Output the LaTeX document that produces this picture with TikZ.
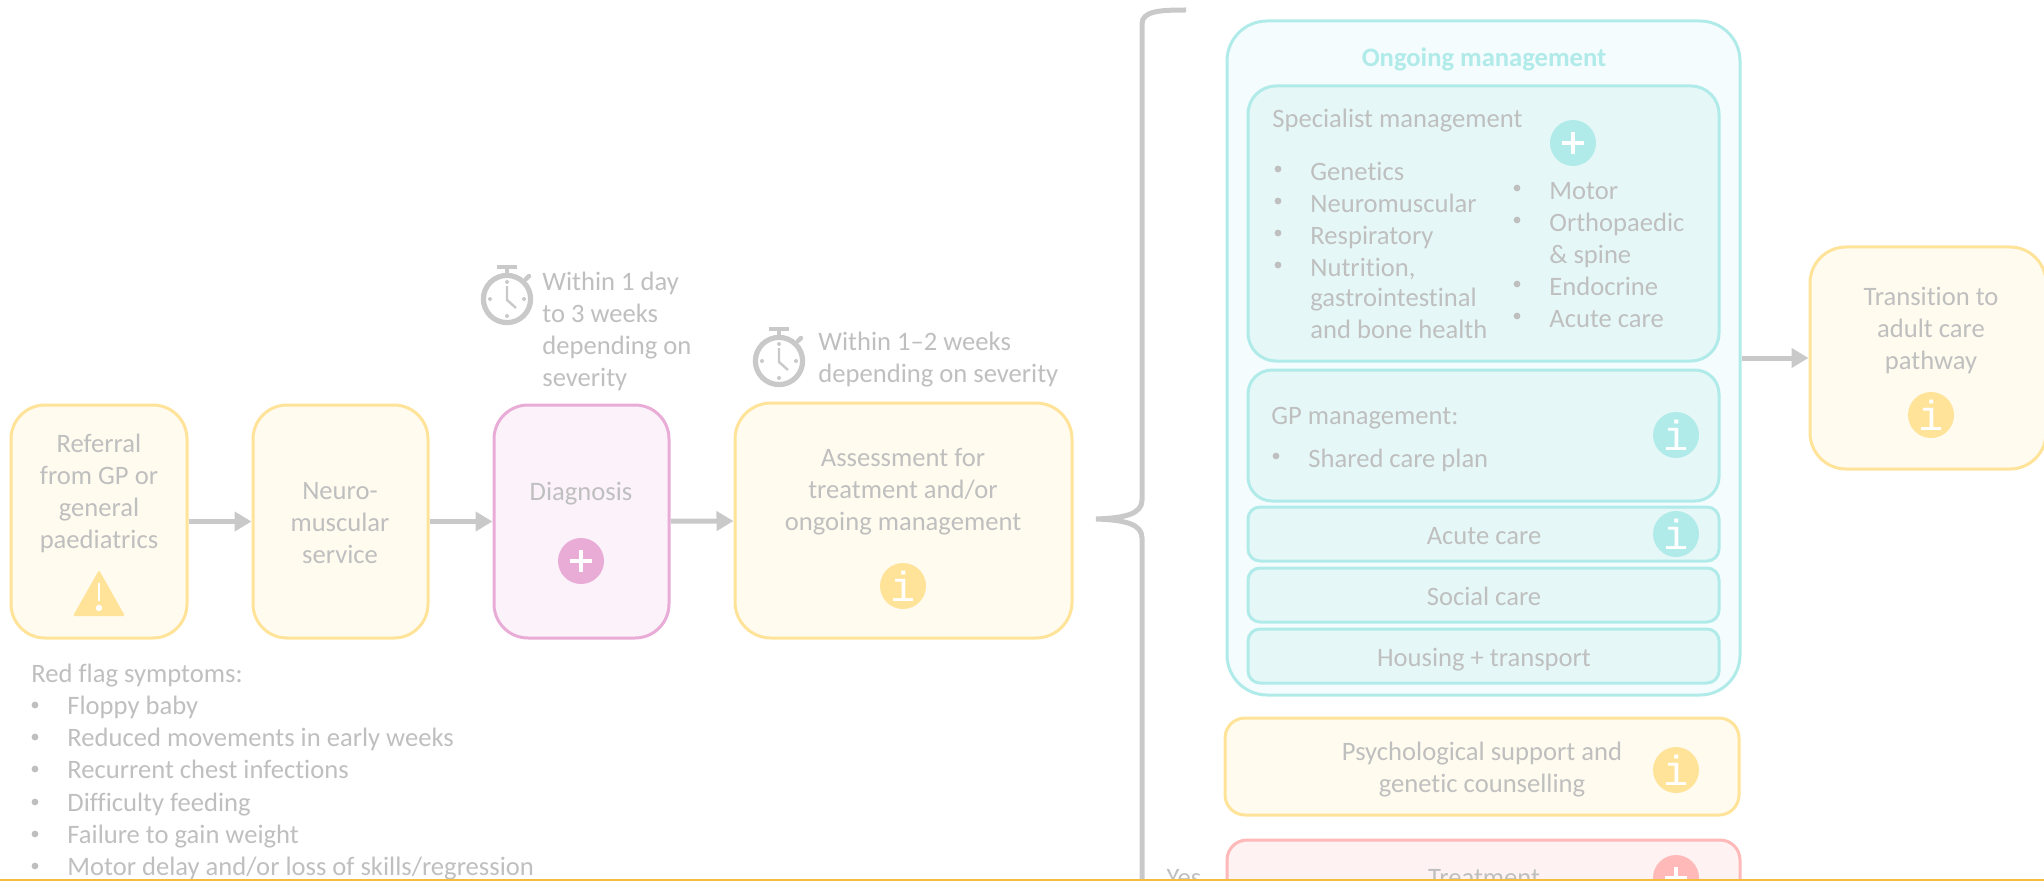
\documentclass[tikz,border=0pt]{standalone}
\usepackage{fontspec}
\setmainfont{Carlito}[Ligatures=NoCommon]
\newfontfamily\iconfont{Liberation Mono}
\usetikzlibrary{arrows.meta}
\definecolor{lightgray}{HTML}{C9C9C9}
\definecolor{labelgray}{HTML}{BFBFBF}
\definecolor{yellowline}{HTML}{FFE399}
\definecolor{yellowfill}{HTML}{FFFBEF}
\definecolor{pinkline}{HTML}{E8ACD6}
\definecolor{pinkfill}{HTML}{FBF2FA}
\definecolor{tealline}{HTML}{B0EBEA}
\definecolor{tealfill}{HTML}{E5F8F7}
\definecolor{tealpale}{HTML}{F4FCFD}
\definecolor{redline}{HTML}{FFB9B9}
\definecolor{redfill}{HTML}{FEF2F2}
\definecolor{rulegold}{HTML}{F2BE3C}
\tikzset{
	flowbox/.style={draw, line width=1.5pt, inner sep=0pt, rounded corners=17pt},
	yellowbox/.style={flowbox, draw=yellowline, fill=yellowfill},
	pinkbox/.style={flowbox, draw=pinkline, fill=pinkfill},
	tealbox/.style={flowbox, draw=tealline, fill=tealfill, rounded corners=14pt},
	label/.style={text=labelgray, font=\fontsize{13.3}{16}\selectfont, align=center, inner sep=0pt, yshift=-1.6pt, execute at begin node=\strut, execute at end node=\strut},
	leftlabel/.style={label, anchor=west, align=left},
	dotmark/.style={circle, fill=labelgray, minimum size=3.4pt, inner sep=0pt},
	flowarrow/.style={lightgray, line width=2.5pt, -{Triangle[length=8.5pt,width=9.5pt]}},
	infoicon/.style={circle, minimum size=23pt, inner sep=0pt, text=white, font=\iconfont\fontsize{21}{21}\selectfont},
	plusicon/.style={circle, minimum size=23pt, inner sep=0pt, path picture={
		\draw [white, line width=2.2pt] ([xshift=-5.7pt]path picture bounding box.center) -- ([xshift=5.7pt]path picture bounding box.center);
		\draw [white, line width=2.2pt] ([yshift=-5.7pt]path picture bounding box.center) -- ([yshift=5.7pt]path picture bounding box.center);
	}}
}
\begin{document}
\begin{tikzpicture}[x=0.5pt, y=-0.5pt]
	\useasboundingbox (0,0) rectangle (2044,882);
	\clip (0,0) rectangle (2044,882);
	\node [yellowbox, minimum width=88pt, minimum height=116.5pt] (referral) at (99,521.5) {};
	\node [yellowbox, minimum width=87.5pt, minimum height=116.5pt] (neuro) at (340.5,521.5) {};
	\node [pinkbox, minimum width=87.5pt, minimum height=116.5pt] (diagnosis) at (581.5,521.5) {};
	\node [yellowbox, rounded corners=18pt, minimum width=168.5pt, minimum height=117.5pt] (assessment) at (903.5,520.5) {};
	\node [flowbox, draw=tealline, fill=tealpale, rounded corners=20pt, minimum width=256.5pt, minimum height=337pt] (ongoing) at (1483.5,358) {};
	\node [tealbox, minimum width=235.5pt, minimum height=137.5pt] (specialist) at (1483.5,223.5) {};
	\node [tealbox, rounded corners=12pt, minimum width=235.5pt, minimum height=65.5pt] (gp) at (1483.5,435.5) {};
	\node [tealbox, rounded corners=6pt, minimum width=235.5pt, minimum height=27pt] (acute) at (1483.5,534) {};
	\node [tealbox, rounded corners=6pt, minimum width=235.5pt, minimum height=27pt] (social) at (1483.5,595) {};
	\node [tealbox, rounded corners=6pt, minimum width=235.5pt, minimum height=27pt] (housing) at (1483.5,656) {};
	\node [yellowbox, rounded corners=10pt, minimum width=257pt, minimum height=48.5pt] (psych) at (1482,766.5) {};
	\node [flowbox, draw=redline, fill=redfill, rounded corners=10pt, minimum width=256.5pt, minimum height=50pt] (treatment) at (1483.5,890) {};
	\node [yellowbox, rounded corners=18pt, minimum width=118pt, minimum height=111pt] (transition) at (1928,358) {};

	\draw [flowarrow] (referral) -- (neuro);
	\draw [flowarrow] (neuro) -- (diagnosis);
	\draw [flowarrow] (diagnosis) -- (assessment);
	\draw [flowarrow] (ongoing) -- (transition);
	\draw [lightgray, line width=2.5pt] (1186,10) .. controls (1160,10) and (1142,11) .. (1142,24) -- (1142,500) .. controls (1142,514) and (1125,518) .. (1096,519) .. controls (1125,520) and (1142,524) .. (1142,538) -- (1142,882);

	\node [label] (referraltext) at (99,493) {Referral\\from GP or\\general\\paediatrics};
	\node [label] (neurotext) at (340,525) {Neuro-\\muscular\\service};
	\node [label] (diagnosistext) at (581,491) {Diagnosis};
	\node [label] (assessmenttext) at (903,491) {Assessment for\\treatment and/or\\ongoing management};
	\node [label] (transitiontext) at (1931,330) {Transition to\\adult care\\pathway};
	\node [label, text=tealline, font=\fontsize{13.3}{16}\selectfont\bfseries] (ongoingtext) at (1484,57) {Ongoing management};
	\node [leftlabel] (specialisttext) at (1272,118) {Specialist management};
	\node [leftlabel] (gptext) at (1271,415) {GP management:};
	\node [label] (acutetext) at (1484,535) {Acute care};
	\node [label] (socialtext) at (1484,596) {Social care};
	\node [label] (housingtext) at (1484,657) {Housing + transport};
	\node [label] (psychtext) at (1482,769) {Psychological support and\\genetic counselling};
	\node [label] (treatmenttext) at (1484,877) {Treatment};
	\node [label] (yestext) at (1184,877) {Yes};
	\node [leftlabel] (firstwait) at (542,331) {Within 1 day\\to 3 weeks\\depending on\\severity};
	\node [leftlabel] (secondwait) at (818,359) {Within 1--2 weeks\\depending on severity};
	\node [leftlabel] (flagtext) at (31,673) {Red flag symptoms:};

	\foreach \y/\t in {705/{Floppy baby}, 737/{Reduced movements in early weeks}, 769/{Recurrent chest infections}, 802/{Difficulty feeding}, 834/{Failure to gain weight}, 866/{Motor delay and/or loss of skills/regression}}{
		\node [dotmark] (flagdot\y) at (35,\y) {};
		\node [leftlabel] (flag\y) at (67,\y) {\t};
	}
	\foreach \y/\t in {171/Genetics, 203/Neuromuscular, 235/Respiratory, 267/{Nutrition,}}{
		\node [dotmark] (leftdot\y) at (1278,\y-2) {};
		\node [leftlabel] (left\y) at (1310,\y) {\t};
	}
	\node [leftlabel] (lefttail) at (1310,315) {gastrointestinal\\and bone health};
	\foreach \y/\t in {190/Motor, 222/Orthopaedic, 286/Endocrine, 318/Acute care}{
		\node [dotmark] (rightdot\y) at (1517,\y-2) {};
		\node [leftlabel] (right\y) at (1549,\y) {\t};
	}
	\node [leftlabel] (righttail) at (1549,254) {\& spine};
	\node [dotmark] (gpdot) at (1276,456) {};
	\node [leftlabel] (gpitem) at (1308,458) {Shared care plan};

	\node [plusicon, fill=pinkline] (diagnosisplus) at (581,561) {};
	\node [plusicon, fill=tealline] (specialistplus) at (1573,143) {};
	\node [plusicon, fill=redline] (treatmentplus) at (1676,878) {};
	\node [infoicon, fill=yellowline] (assessmentinfo) at (903,586) {i};
	\node [infoicon, fill=tealline] (gpinfo) at (1676,435) {i};
	\node [infoicon, fill=tealline] (acuteinfo) at (1676,534) {i};
	\node [infoicon, fill=yellowline] (psychinfo) at (1676,770) {i};
	\node [infoicon, fill=yellowline] (transitioninfo) at (1931,415) {i};

	\fill [yellowline, rounded corners=1pt] (99,570) -- (125,616) -- (73,616) -- cycle;
	\draw [white, line width=1.4pt] (99,583) -- (99,601);
	\fill [white] (99,608) circle (1.6pt);

	\foreach \x/\y in {507/299, 779/361}{
		\begin{scope}[shift={(\x,\y)}]
			\draw [lightgray, line width=2.6pt] (0,0) circle (11.8pt);
			\draw [lightgray, line width=2.4pt] (0,-24) -- (0,-31);
			\draw [lightgray, line width=2pt] (-10,-32) -- (10,-32);
			\draw [lightgray, line width=2.2pt, line cap=round] (19,-20) -- (22,-23);
			\draw [lightgray, line width=1.2pt] (0,-13) -- (0,1) -- (9,9);
			\foreach \a/\b in {0/-17, 0/17, -17/0, 17/0}{
				\fill [lightgray] (\a,\b) circle (1pt);
			}
		\end{scope}
	}

	\fill [white] (0,880) rectangle (2044,882);
	\draw [rulegold, line width=1pt] (0,880) -- (2044,880);
\end{tikzpicture}
\end{document}
